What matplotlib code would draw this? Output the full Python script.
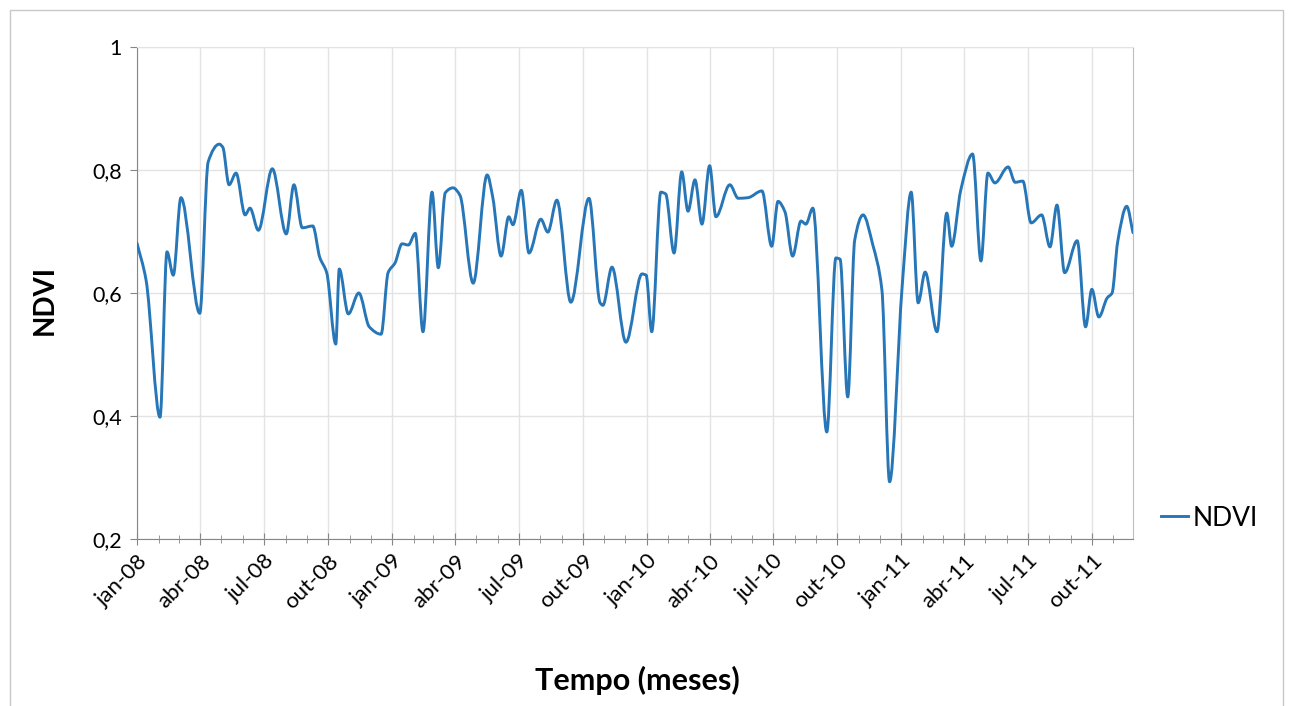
import numpy as np
import pandas as pd
import matplotlib
matplotlib.use("Agg")
import matplotlib.pyplot as plt
import matplotlib.dates as mdates
from matplotlib.path import Path
from matplotlib.patches import PathPatch, Rectangle
from matplotlib.lines import Line2D

plt.rcParams['font.family'] = ['Lato', 'DejaVu Sans']

# ---- data (days since 2008-01-01, NDVI) ----
days = [0, 13, 33, 43, 52, 63, 90, 102, 118, 123, 132, 142, 155, 162, 174, 194, 214, 225,
        237, 252, 262, 272, 285, 290, 303, 318, 333, 350, 360, 370, 380, 389, 399, 410,
        423, 432, 442, 453, 463, 482, 502, 510, 522, 533, 539, 551, 562, 579, 589, 602,
        622, 648, 664, 668, 681, 701, 724, 730, 738, 751, 758, 770, 781, 790, 800, 810,
        821, 830, 850, 862, 876, 896, 910, 919, 929, 940, 952, 959, 969, 989, 1002, 1008,
        1019, 1029, 1041, 1055, 1068, 1079, 1097, 1110, 1120, 1130, 1147, 1161, 1168,
        1181, 1198, 1210, 1220, 1230, 1249, 1259, 1270, 1282, 1297, 1309, 1319, 1330,
        1348, 1360, 1369, 1379, 1391, 1398, 1406, 1419, 1428]
ndvi = [0.681, 0.621, 0.398, 0.667, 0.629, 0.755, 0.567, 0.813, 0.842, 0.837, 0.776, 0.795,
        0.727, 0.738, 0.702, 0.802, 0.696, 0.776, 0.706, 0.709, 0.658, 0.633, 0.517, 0.639,
        0.566, 0.600, 0.545, 0.533, 0.633, 0.649, 0.680, 0.678, 0.697, 0.537, 0.764, 0.641,
        0.763, 0.771, 0.759, 0.616, 0.792, 0.756, 0.660, 0.724, 0.711, 0.767, 0.665, 0.720,
        0.699, 0.751, 0.585, 0.754, 0.584, 0.580, 0.642, 0.520, 0.631, 0.629, 0.537, 0.764,
        0.761, 0.665, 0.797, 0.733, 0.784, 0.712, 0.807, 0.724, 0.776, 0.754, 0.755, 0.766,
        0.676, 0.749, 0.732, 0.660, 0.717, 0.712, 0.738, 0.374, 0.657, 0.655, 0.431, 0.686,
        0.727, 0.678, 0.605, 0.293, 0.610, 0.764, 0.584, 0.634, 0.537, 0.730, 0.676, 0.767,
        0.826, 0.652, 0.795, 0.779, 0.805, 0.780, 0.782, 0.714, 0.727, 0.675, 0.743, 0.633,
        0.685, 0.545, 0.606, 0.561, 0.592, 0.600, 0.683, 0.741, 0.698]
tick_dates = ['2008-01-01', '2008-04-01', '2008-07-01', '2008-10-01',
              '2009-01-01', '2009-04-01', '2009-07-01', '2009-10-01',
              '2010-01-01', '2010-04-01', '2010-07-01', '2010-10-01',
              '2011-01-01', '2011-04-01', '2011-07-01', '2011-10-01']
tick_labels = ['jan-08', 'abr-08', 'jul-08', 'out-08', 'jan-09', 'abr-09', 'jul-09', 'out-09',
               'jan-10', 'abr-10', 'jul-10', 'out-10', 'jan-11', 'abr-11', 'jul-11', 'out-11']
y_ticks = [0.2, 0.4, 0.6, 0.8, 1.0]
y_labels = ['0,2', '0,4', '0,6', '0,8', '1']

dates = pd.Timestamp('2008-01-01') + pd.to_timedelta(days, unit='D')
xnum = mdates.date2num(dates.to_pydatetime())
y = np.array(ndvi)

fig = plt.figure(figsize=(12.9, 7.06), dpi=100)
fig.patches.append(Rectangle((10 / 1290, -0.01), 1273 / 1290, (706 - 10) / 706 + 0.01,
                             transform=fig.transFigure, fill=False, edgecolor='#c8c8c8',
                             linewidth=1.0))
ax = fig.add_axes([137 / 1290, 1 - 539 / 706, (1133 - 137) / 1290, (539 - 47) / 706])

# smoothed line: monotone cubic (PCHIP) slopes rendered as Bezier curves
n = len(xnum)
h = np.diff(xnum)
delta = np.diff(y) / h
m = np.zeros(n)
m[0] = delta[0]
m[-1] = delta[-1]
for k in range(1, n - 1):
    if delta[k - 1] * delta[k] <= 0:
        m[k] = 0.0
    else:
        w1 = 2 * h[k] + h[k - 1]
        w2 = h[k] + 2 * h[k - 1]
        m[k] = (w1 + w2) / (w1 / delta[k - 1] + w2 / delta[k])
verts = [(xnum[0], y[0])]
codes = [Path.MOVETO]
for i in range(n - 1):
    dx = h[i] / 3.0
    verts += [(xnum[i] + dx, y[i] + m[i] * dx),
              (xnum[i + 1] - dx, y[i + 1] - m[i + 1] * dx),
              (xnum[i + 1], y[i + 1])]
    codes += [Path.CURVE4] * 3
path = Path(verts, codes)
ax.add_patch(PathPatch(path, facecolor='none', edgecolor='#2676b8', linewidth=2.1,
                       capstyle='round', joinstyle='round', zorder=3))

ax.set_xlim(xnum[0], xnum[-1])
ax.set_ylim(0.2, 1.0)

ax.set_yticks(y_ticks)
ax.set_yticklabels(y_labels, fontsize=15.5)
major = mdates.date2num(pd.to_datetime(tick_dates).to_pydatetime())
ax.set_xticks(major)
ax.set_xticklabels(tick_labels, fontsize=16, rotation=45, ha='right', rotation_mode='anchor')
ax.xaxis.set_minor_locator(mdates.MonthLocator())
ax.tick_params(axis='x', which='major', direction='inout', length=9, color='#868686', pad=4)
ax.tick_params(axis='x', which='minor', direction='inout', length=6, color='#868686')
ax.tick_params(axis='y', which='major', direction='out', length=5, color='#868686', pad=6)

ax.grid(True, which='major', color='#e3e3e3', linewidth=1.0)
ax.set_axisbelow(True)
for s in ['left', 'bottom']:
    ax.spines[s].set_color('#868686')
ax.spines['right'].set_color('#bdbdbd')
ax.spines['top'].set_color('#e3e3e3')

ax.set_xlabel('Tempo (meses)', fontsize=22, fontweight='bold')
ax.xaxis.set_label_coords((637 - 137) / 996, (539 - 680) / 492)
ax.xaxis.label.set_va('center')
ax.set_ylabel('NDVI', fontsize=20, fontweight='bold')
ax.yaxis.set_label_coords((45 - 137) / 996, (539 - 300) / 492)
ax.yaxis.label.set_va('center')

handle = Line2D([], [], color='#2676b8', linewidth=2.1)
fig.legend([handle], ['NDVI'], loc='center left', bbox_to_anchor=(1137 / 1290, 1 - 518 / 706),
           frameon=False, fontsize=19, handlelength=1.05, handletextpad=0.15)

fig.savefig('out.png', dpi=100)
